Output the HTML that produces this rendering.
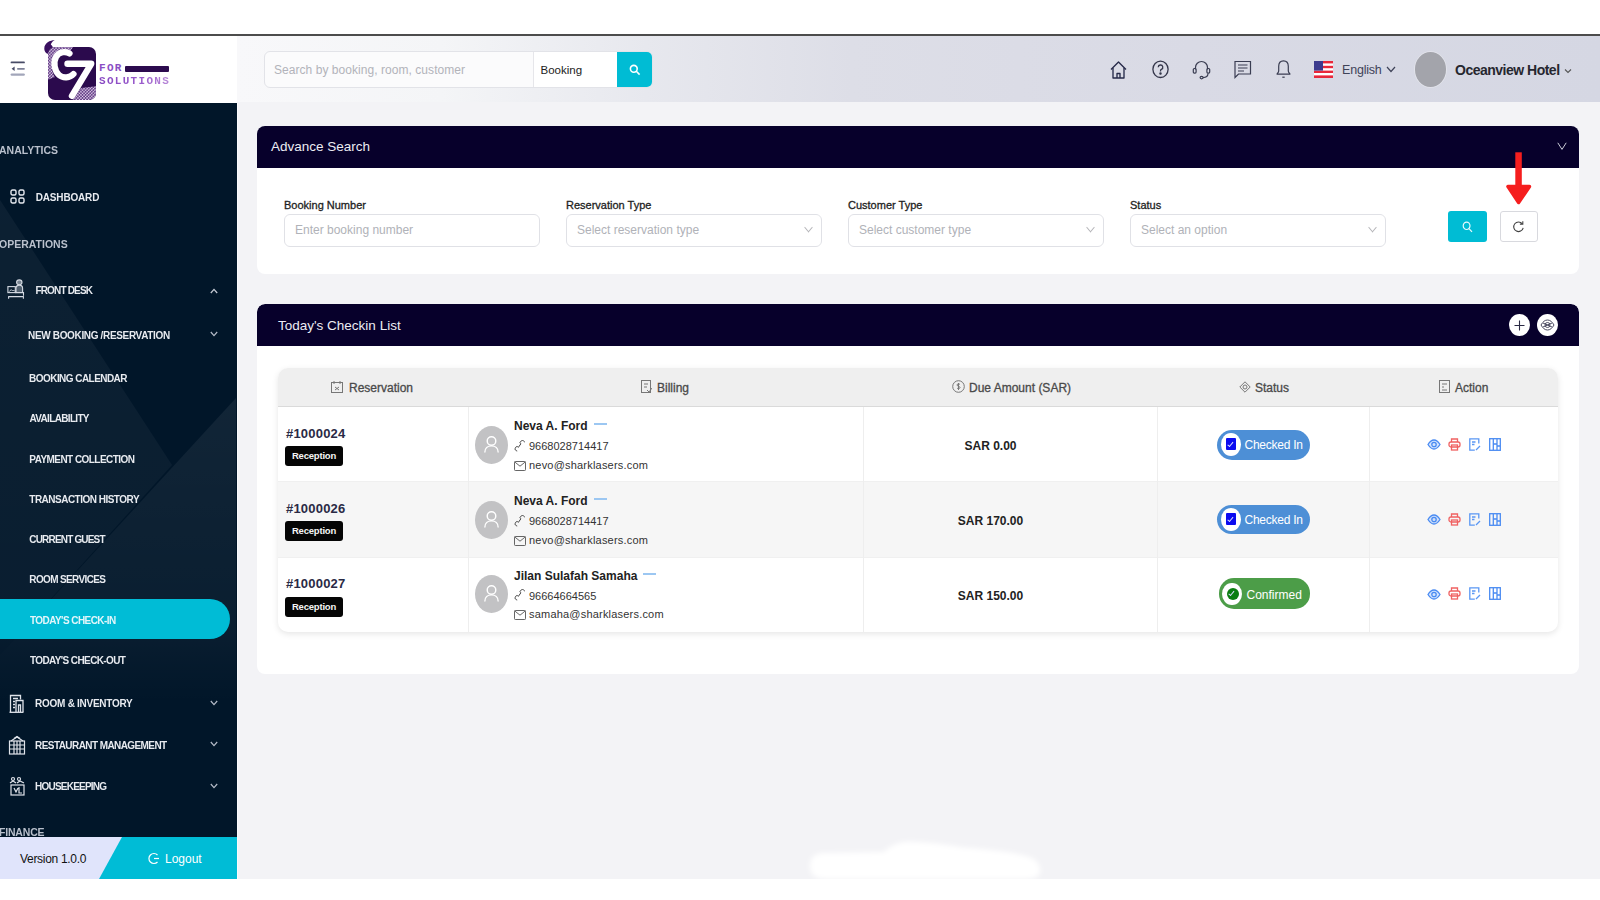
<!DOCTYPE html>
<html><head><meta charset="utf-8">
<style>
*{box-sizing:border-box;margin:0;padding:0}
html,body{width:1600px;height:900px;overflow:hidden;background:#fff;font-family:"Liberation Sans",sans-serif}
.abs{position:absolute}
#topline{position:absolute;left:0;top:34px;width:1600px;height:2px;background:#4c4c4c}
#logoarea{position:absolute;left:0;top:36px;width:237px;height:67px;background:#fff}
#hdr{position:absolute;left:237px;top:36px;width:1363px;height:66px;background:linear-gradient(90deg,#f8f8fa 0%,#f4f5f7 15%,#e7e8ee 30%,#dddee7 45%,#d9dae5 70%,#d5d7e3 100%)}
#main{position:absolute;left:237px;top:102px;width:1363px;height:777px;background:#f3f3f6}
#side{position:absolute;left:0;top:103px;width:237px;height:776px;background:#011629;overflow:hidden}
#sideedge{position:absolute;left:237px;top:103px;width:1px;height:776px;background:#fafafc}
#bottom{position:absolute;left:0;top:879px;width:1600px;height:21px;background:#fff}
.card{position:absolute;background:#fff;border-radius:8px;overflow:hidden}
.cardh{position:absolute;left:0;top:0;right:0;background:#07002b;color:#fff}

#sidetxt{position:absolute;left:0;top:0;width:237px;height:879px;overflow:hidden}
.sec{position:absolute;font-size:10.5px;line-height:13px;font-weight:bold;color:#b9c0cc;transform:scaleY(1.12)}
.it{position:absolute;font-size:10px;line-height:12px;font-weight:bold;color:#e8ebf0;transform:scaleY(1.12)}
.sub{position:absolute;font-size:10px;line-height:12px;font-weight:bold;color:#e8ebf0;transform:scaleY(1.12)}
.chev{position:absolute;left:209px;font-size:10px;line-height:10px;color:#aab2c0}

.ttl{position:absolute;font-size:13.5px;line-height:16px;color:#ececf3}
.lbl{position:absolute;font-size:11px;line-height:12px;color:#1e1e22;-webkit-text-stroke:0.3px #1e1e22}
.inp{position:absolute;top:88px;height:33px;border:1px solid #e0e1e6;border-radius:6px;background:#fff}
.inp span{position:absolute;left:10px;top:8px;font-size:12px;line-height:14px;color:#b0b2b8}
.inp i{position:absolute;right:8.5px;top:11.5px;width:9px;height:7px;background:no-repeat center/9px 7px}
.inp i:before{content:"";position:absolute;left:1px;top:-2.5px;width:6px;height:6px;border-right:1px solid #b4b4b8;border-bottom:1px solid #b4b4b8;transform:scaleX(0.85) rotate(45deg)}
.vl{position:absolute;top:39px;width:1px;height:225px;background:#eeeeee}
.th{position:absolute;top:12.5px;font-size:12px;line-height:14px;color:#4a4a4a;-webkit-text-stroke:0.3px #4a4a4a}
.rn{position:absolute;font-size:13px;line-height:15px;font-weight:bold;color:#2a2a45;letter-spacing:0.2px}
.badge{position:absolute;width:58px;height:20px;background:#050505;border-radius:3px;color:#f4f4f4;font-size:9.5px;line-height:20px;font-weight:bold;text-align:center;letter-spacing:-0.2px}
.av{position:absolute;width:33px;height:38px;border-radius:50%;background:#c2c2c4}
.nm{position:absolute;font-size:12px;line-height:14px;font-weight:bold;color:#222}
.dash{display:inline-block;width:13px;height:2px;background:#9cc7f2;margin-left:6px;vertical-align:middle;position:relative;top:-3px}
.sm{position:absolute;font-size:11px;line-height:13px;color:#333}
.amt{position:absolute;text-align:center;font-size:12px;line-height:14px;font-weight:bold;color:#222}
.st{position:absolute;width:93px;height:29.5px;border-radius:15px;color:#fff;font-size:12px;line-height:30px;padding-left:27.5px}
.st .ic{position:absolute;left:3.5px;top:2.8px;width:20.5px;height:23px;border-radius:50%;background:#fff}
.st .ic b{position:absolute;left:5px;top:5.5px;width:10.5px;height:12px;border-radius:1px}
.st .ic b:after{content:"";position:absolute;left:3.6px;top:2.6px;width:2.4px;height:4.5px;border-right:1px solid #d8dcff;border-bottom:1px solid #d8dcff;transform:rotate(40deg)}
</style></head>
<body>
<div id="topline"></div>
<div id="logoarea"></div>
<div id="hdr"></div>
<svg class="abs" style="left:10px;top:60px" width="16" height="17" viewBox="0 0 16 17"><rect x="0.6" y="1.5" width="14.3" height="1.8" rx="0.9" fill="#474b66"/><path d="M1.6 8.7l3-2.2v4.4z" fill="#474b66"/><rect x="7" y="7.9" width="7.9" height="1.8" rx="0.9" fill="#7d8198"/><rect x="0.6" y="13.4" width="14.3" height="2.4" rx="1.2" fill="#a2a6ba"/></svg>
<svg class="abs" style="left:40px;top:38px" width="60" height="64" viewBox="40 38 60 64">
<defs><pattern id="dots" width="2.2" height="2.2" patternUnits="userSpaceOnUse" patternTransform="rotate(45)"><rect width="2.2" height="2.2" fill="#4a1a72"/><circle cx="1.1" cy="1.1" r="0.85" fill="#ece4f3"/></pattern>
<clipPath id="sq"><rect x="48" y="47" width="48" height="53" rx="7"/></clipPath></defs>
<path d="M54.8 40 C50 40.3 44.3 43 44.3 48.5 C44.3 51.8 46.5 54 49 54 C51.6 54 53.2 52 53.2 49.3 C53.2 46.8 51.8 45.5 50.8 44.5 C51.6 42.4 53 41 54.8 40 Z" fill="#3a0f60"/>
<rect x="48" y="47" width="48" height="53" rx="7" fill="#2b0a4d"/>
<g clip-path="url(#sq)">
<path d="M47 47 H73 L70 52 C60 50 53 55 52 64 C51.5 70 53 74 55 77 L47 80 Z" fill="url(#dots)"/>
<path d="M73 100 L81 88 L97 86 L97 101 Z" fill="url(#dots)"/>
</g>
<path d="M69.5 53.5 C66 51 59 51.5 56 57 C53 62.5 54.5 71 59 75 C63 78.5 70 78 73.5 74" fill="none" stroke="#fff" stroke-width="6.2" stroke-linecap="round"/>
<path d="M67.5 63.8 H91.2 L72 95.8" fill="none" stroke="#fff" stroke-width="6.4" stroke-linecap="round" stroke-linejoin="round"/>
</svg>
<div class="abs" style="left:99px;top:63px;font:bold 11px/10px 'Liberation Mono',monospace;color:#8a4ec4;letter-spacing:1.3px">FOR</div>
<div class="abs" style="left:125px;top:66px;width:44px;height:6px;background:#2c0b4e;border-radius:1px"></div>
<div class="abs" style="left:99px;top:75.5px;font:bold 11px/10px 'Liberation Mono',monospace;letter-spacing:1.3px;background:linear-gradient(90deg,#8747c2,#9a5bcc 60%,#b98ad8);-webkit-background-clip:text;background-clip:text;color:transparent">SOLUTIONS</div>

<div class="abs" style="left:264px;top:51px;width:389px;height:37px;border:1px solid #e2e3e8;border-radius:6px;background:#fbfbfc;overflow:hidden">
  <div class="abs" style="left:9px;top:11px;font-size:12px;line-height:14px;color:#b2b3ba;letter-spacing:0.05px">Search by booking, room, customer</div>
  <div class="abs" style="left:268px;top:0;width:1px;height:37px;background:#e6e6ea"></div>
  <div class="abs" style="left:269px;top:0;width:84px;height:37px;background:#fff"></div>
  <div class="abs" style="left:275.5px;top:11px;font-size:11.5px;line-height:14px;color:#222">Booking</div>
  <div class="abs" style="left:352px;top:-1px;width:36px;height:37px;background:#00bcd4"></div>
  <svg class="abs" style="left:364px;top:12px" width="12" height="12" viewBox="0 0 12 12" fill="none" stroke="#fff" stroke-width="1.6"><circle cx="4.8" cy="4.8" r="3.4"/><path d="M7.3 7.3l3.3 3.3"/></svg>
</div>

<svg class="abs" style="left:1109px;top:60px" width="19" height="19" viewBox="0 0 19 19" fill="none" stroke="#272b4a" stroke-width="1.35" stroke-linejoin="round"><path d="M2 9.5L9.5 2 17 9.5"/><path d="M4 8v10h11V8"/><path d="M8 18v-4.5h3V18"/></svg>
<svg class="abs" style="left:1151px;top:59.5px" width="19" height="19" viewBox="0 0 19 19" fill="none" stroke="#34364a" stroke-width="1.3"><ellipse cx="9.5" cy="9.3" rx="7.6" ry="8.2"/><path d="M7.2 7.2a2.3 2.3 0 1 1 3.2 2.2c-.6.3-.9.8-.9 1.5v.7"/><circle cx="9.5" cy="13.6" r="0.6" fill="#34364a"/></svg>
<svg class="abs" style="left:1192px;top:59px" width="19" height="21" viewBox="0 0 19 21" fill="none" stroke="#3a3d52" stroke-width="1.2"><path d="M3.5 10.5V8.5a6 6 0 0 1 12 0v2"/><rect x="1.3" y="9.5" width="2.8" height="4.6" rx="1"/><rect x="14.9" y="9.5" width="2.8" height="4.6" rx="1"/><path d="M16 14.5c0 2.6-2.2 4-5 4.2"/><ellipse cx="9.6" cy="18.6" rx="1.5" ry="1.2"/></svg>
<svg class="abs" style="left:1233px;top:60px" width="19" height="19" viewBox="0 0 19 19" fill="none" stroke="#3a3d52" stroke-width="1.2"><path d="M2 1.5h15.5v12.5H5.5L2 17.5z"/><path d="M5 5h9.5M5 8h9.5M5 11h6"/></svg>
<svg class="abs" style="left:1275px;top:59px" width="17" height="21" viewBox="0 0 17 21" fill="none" stroke="#3a3d52" stroke-width="1.2"><path d="M8.5 1.8c3 0 4.8 2.4 4.8 5.4V12c0 1.3.8 2 1.5 2.6v.6H2.2v-.6c.7-.6 1.5-1.3 1.5-2.6V7.2c0-3 1.8-5.4 4.8-5.4z"/><path d="M7.3 18.2h2.4"/></svg>
<svg class="abs" style="left:1314px;top:61px" width="19" height="17" viewBox="0 0 19 17"><rect width="19" height="17" fill="#e8283a"/><rect y="2.4" width="19" height="2.4" fill="#fff"/><rect y="7.2" width="19" height="2.4" fill="#fff"/><rect y="12" width="19" height="2.4" fill="#fff"/><rect width="9" height="9.6" fill="#3c3b8e"/></svg>
<div class="abs" style="left:1342px;top:63px;font-size:12.5px;line-height:14px;color:#3f4358;letter-spacing:-0.2px">English</div>
<svg class="abs" style="left:1386px;top:66px" width="10" height="7" viewBox="0 0 10 7" fill="none" stroke="#3f4358" stroke-width="1.2"><path d="M1 1l4 4.5L9 1"/></svg>
<div class="abs" style="left:1414.5px;top:51.8px;width:31.6px;height:35.2px;border-radius:50%;background:#a3a4ab;box-shadow:0 0 0 0.8px #e4e5ec"></div>
<div class="abs" style="left:1455px;top:62px;font-size:14px;line-height:16px;font-weight:bold;color:#26272f;letter-spacing:-0.5px">Oceanview Hotel</div>
<svg class="abs" style="left:1564px;top:68px" width="8" height="6" viewBox="0 0 8 6" fill="none" stroke="#555" stroke-width="1.1"><path d="M1 1.5l3 3 3-3"/></svg>

<div id="main"></div>

<div id="side">
<svg width="236" height="776" style="position:absolute;left:0;top:0">
<defs><linearGradient id="fa" x1="0" y1="295" x2="0" y2="600" gradientUnits="userSpaceOnUse"><stop offset="0" stop-color="#fff" stop-opacity="0.065"/><stop offset="0.75" stop-color="#fff" stop-opacity="0.035"/><stop offset="1" stop-color="#fff" stop-opacity="0"/></linearGradient>
<linearGradient id="fb" x1="0" y1="97" x2="0" y2="600" gradientUnits="userSpaceOnUse"><stop offset="0" stop-color="#fff" stop-opacity="0.045"/><stop offset="0.8" stop-color="#fff" stop-opacity="0.035"/><stop offset="1" stop-color="#fff" stop-opacity="0"/></linearGradient></defs>
<polygon points="0,97 172,362 0,552" fill="url(#fb)"/>
<polygon points="236,295 0,552 0,600 236,600" fill="url(#fa)"/>
</svg>
</div>
<div id="sidetxt">
<div class="sec" style="left:-1px;top:143.8px;letter-spacing:0px">ANALYTICS</div>
<svg class="abs" style="left:10px;top:189px" width="15" height="15" viewBox="0 0 15 15" fill="none" stroke="#e6e9ef" stroke-width="1.4"><rect x="1" y="1" width="5" height="5" rx="1.5"/><rect x="9" y="1" width="5" height="5" rx="1.5"/><rect x="1" y="9" width="5" height="5" rx="1.5"/><rect x="9" y="9" width="5" height="5" rx="1.5"/></svg>
<div class="it" style="left:35.7px;top:191.9px;letter-spacing:-0.16px">DASHBOARD</div>
<div class="sec" style="left:-1px;top:237.9px;letter-spacing:0px">OPERATIONS</div>
<svg class="abs" style="left:7px;top:279px" width="18" height="21" viewBox="0 0 18 21" fill="none" stroke="#d5dae3" stroke-width="1.1"><rect x="0.9" y="7.6" width="7.4" height="6"/><path d="M2.2 12.6l2-2 1.4 1.4 1-1 1 1.2" stroke-width="0.9"/><ellipse cx="12.3" cy="3.3" rx="2.7" ry="2.4" fill="#d5dae3" fill-opacity="0.55"/><path d="M9 13.5v-4.2c0-1.8 1.5-3.2 3.3-3.2s3.3 1.4 3.3 3.2v4.2" fill="#d5dae3" fill-opacity="0.35"/><path d="M8.3 13.6h8.2v3.2M1.2 17.6h15.6M1.6 17.6v2.2M16.4 17.6v2.2"/></svg>
<div class="it" style="left:35.4px;top:285.4px;letter-spacing:-0.82px">FRONT DESK</div>
<svg class="abs" style="left:210px;top:287.5px" width="8" height="6" viewBox="0 0 8 6" fill="none" stroke="#c3c8d2" stroke-width="1.3"><path d="M0.8 5l3.2-3.6 3.2 3.6"/></svg>
<div class="sub" style="left:28px;top:330.4px;letter-spacing:-0.34px">NEW BOOKING /RESERVATION</div>
<svg class="abs" style="left:210px;top:330.5px" width="8" height="6" viewBox="0 0 8 6" fill="none" stroke="#b6bcc8" stroke-width="1.2"><path d="M0.8 1l3.2 3.6 3.2-3.6"/></svg>
<div class="sub" style="left:29.1px;top:372.7px;letter-spacing:-0.55px">BOOKING CALENDAR</div>
<div class="sub" style="left:29.5px;top:413.1px;letter-spacing:-0.67px">AVAILABILITY</div>
<div class="sub" style="left:29.3px;top:453.6px;letter-spacing:-0.55px">PAYMENT COLLECTION</div>
<div class="sub" style="left:29.3px;top:493.8px;letter-spacing:-0.51px">TRANSACTION HISTORY</div>
<div class="sub" style="left:29.3px;top:534.3px;letter-spacing:-0.82px">CURRENT GUEST</div>
<div class="sub" style="left:29.3px;top:574.3px;letter-spacing:-0.63px">ROOM SERVICES</div>
<div class="abs" style="left:0;top:599px;width:230px;height:40px;background:#00bcd6;border-radius:0 20px 20px 0"></div>
<div class="sub" style="left:30px;top:615.2px;letter-spacing:-0.56px;color:#e3f6fa">TODAY'S CHECK-IN</div>
<div class="sub" style="left:30px;top:655.1px;letter-spacing:-0.61px">TODAY'S CHECK-OUT</div>
<svg class="abs" style="left:9px;top:694px" width="15" height="19" viewBox="0 0 15 19" fill="none" stroke="#dfe3ea" stroke-width="1.3"><path d="M1.5 18V1.5h10v4"/><path d="M4 4.5h5M4 7.5h2M4 10.5h2M4 13.5h2"/><path d="M7 18V6.5h7V18"/><path d="M9.5 18v-7h2v7"/><path d="M0.5 18.3h14"/></svg>
<div class="it" style="left:35.1px;top:698.0px;letter-spacing:-0.27px">ROOM &amp; INVENTORY</div>
<svg class="abs" style="left:210px;top:699.5px" width="8" height="6" viewBox="0 0 8 6" fill="none" stroke="#b6bcc8" stroke-width="1.2"><path d="M0.8 1l3.2 3.6 3.2-3.6"/></svg>
<svg class="abs" style="left:8px;top:735px" width="18" height="20" viewBox="0 0 18 20" fill="none" stroke="#dfe3ea" stroke-width="1.2"><path d="M3 6l6-4 6 4"/><path d="M6 3.5l3-2 3 2"/><rect x="1.5" y="6" width="15" height="13"/><path d="M1.5 10h15M1.5 14h15M6 6v13M12 6v13M9 6v13"/></svg>
<div class="it" style="left:35.1px;top:739.6px;letter-spacing:-0.58px">RESTAURANT MANAGEMENT</div>
<svg class="abs" style="left:210px;top:740.5px" width="8" height="6" viewBox="0 0 8 6" fill="none" stroke="#b6bcc8" stroke-width="1.2"><path d="M0.8 1l3.2 3.6 3.2-3.6"/></svg>
<svg class="abs" style="left:8px;top:776px" width="18" height="20" viewBox="0 0 18 20" fill="none" stroke="#dfe3ea" stroke-width="1.2"><circle cx="5" cy="3" r="1.5"/><circle cx="11" cy="3" r="1.5"/><path d="M2 7l3-2 3 2M9 7l3-2 4 2"/><rect x="3" y="9" width="13" height="10"/><path d="M6 12l2 4 2-4M11 11v6h3"/></svg>
<div class="it" style="left:35.1px;top:781.0px;letter-spacing:-0.78px">HOUSEKEEPING</div>
<svg class="abs" style="left:210px;top:782.5px" width="8" height="6" viewBox="0 0 8 6" fill="none" stroke="#b6bcc8" stroke-width="1.2"><path d="M0.8 1l3.2 3.6 3.2-3.6"/></svg>
<div class="sec" style="left:-1px;top:826px;letter-spacing:-0.19px">FINANCE</div>
<div class="abs" style="left:0;top:837px;width:237px;height:42px;background:#e0e4fb"></div>
<div class="abs" style="left:0;top:837px;width:237px;height:42px;background:#00bcd6;clip-path:polygon(122px 0,237px 0,237px 42px,99px 42px)"></div>
<div class="abs" style="left:20px;top:852px;font-size:12px;line-height:14px;color:#111;letter-spacing:-0.3px">Version 1.0.0</div>
<svg class="abs" style="left:148px;top:852px" width="12" height="13" viewBox="0 0 12 13" fill="none" stroke="#fff" stroke-width="1.2"><path d="M9.5 3A5 5 0 1 0 9.5 10"/><path d="M6 6.5h5"/></svg>
<div class="abs" style="left:165px;top:852px;font-size:12px;line-height:14px;color:#fff">Logout</div>
</div>

<div id="sideedge"></div>


<!-- advance search card -->
<div class="card" style="left:257px;top:126px;width:1322px;height:148px">
  <div class="cardh" style="height:42px"></div>
  <div class="ttl" style="left:14px;top:13px">Advance Search</div>
  <svg class="abs" style="left:1299.5px;top:16px" width="10" height="9" viewBox="0 0 10 9" fill="none" stroke="#c9cad6" stroke-width="1"><path d="M0.8 0.8l4.2 6.6 4.2-6.6"/></svg>
  <div class="lbl" style="left:27px;top:73px">Booking Number</div>
  <div class="inp" style="left:27px;width:256px"><span>Enter booking number</span></div>
  <div class="lbl" style="left:309px;top:73px">Reservation Type</div>
  <div class="inp" style="left:309px;width:256px"><span>Select reservation type</span><i></i></div>
  <div class="lbl" style="left:591px;top:73px">Customer Type</div>
  <div class="inp" style="left:591px;width:256px"><span>Select customer type</span><i></i></div>
  <div class="lbl" style="left:873px;top:73px">Status</div>
  <div class="inp" style="left:873px;width:256px"><span>Select an option</span><i></i></div>
  <div class="abs" style="left:1191px;top:85px;width:39px;height:31px;background:#00bcd4;border-radius:3px"></div>
  <svg class="abs" style="left:1205px;top:95px" width="11" height="12" viewBox="0 0 11 12" fill="none" stroke="#e8fafd" stroke-width="1.2"><ellipse cx="4.6" cy="4.8" rx="3.4" ry="3.7"/><path d="M7 7.6l3 3.3"/></svg>
  <div class="abs" style="left:1243px;top:85px;width:38px;height:31px;background:#fff;border:1px solid #d8d9de;border-radius:3px"></div>
  <svg class="abs" style="left:1255px;top:94px" width="13" height="13" viewBox="0 0 13 13" fill="none" stroke="#444" stroke-width="1.1"><path d="M10.3 3.8A4.8 4.8 0 1 0 11.2 7.8"/><path d="M10.8 1.2v2.9h-2.9"/></svg>
</div>
<!-- red arrow -->
<svg class="abs" style="left:1504px;top:150px" width="28" height="56" viewBox="0 0 28 56"><rect x="11.3" y="2.3" width="6.5" height="36" fill="#f51e1e"/><path d="M4 36.5 L25.5 36.5 L14.6 52.5 Z" fill="#f51e1e" stroke="#f51e1e" stroke-width="3.5" stroke-linejoin="round"/></svg>

<!-- checkin card -->
<div class="card" style="left:257px;top:304px;width:1322px;height:370px">
  <div class="cardh" style="height:42px;border-radius:8px 8px 0 0"></div>
  <div class="ttl" style="left:21px;top:14px">Today's Checkin List</div>
  <div class="abs" style="left:1252px;top:10px;width:21px;height:22px;border-radius:50%;background:#fff"></div>
  <svg class="abs" style="left:1256px;top:15px" width="13" height="13" viewBox="0 0 13 13" stroke="#2a2a44" stroke-width="1.1"><path d="M6.5 1.5v10M1.5 6.5h10"/></svg>
  <div class="abs" style="left:1280px;top:10px;width:21px;height:22px;border-radius:50%;background:#fff"></div>
  <svg class="abs" style="left:1283px;top:15px" width="15" height="12" viewBox="0 0 15 12" fill="none" stroke="#4a4a60" stroke-width="1"><path d="M1 6c2-3.5 4-5 6.5-5S12 2.5 14 6c-2 3.5-4 5-6.5 5S3 9.5 1 6z"/><circle cx="7.5" cy="6" r="2.5"/><path d="M3 4l9 4M3 8l9-4"/></svg>

  <div id="tbl" class="abs" style="left:21px;top:64px;width:1280px;height:264px;border-radius:10px;background:#fff;box-shadow:0 2px 6px rgba(0,0,0,0.10);overflow:hidden">
    <div class="abs" style="left:0;top:0;width:1280px;height:39px;background:#efefef;border-bottom:1px solid #dadada"></div>
    <div class="abs" style="left:0;top:114px;width:1280px;height:75px;background:#f6f6f6"></div>
    <div class="abs" style="left:0;top:113px;width:1280px;height:1px;background:#f0f0f0"></div>
    <div class="abs" style="left:0;top:189px;width:1280px;height:1px;background:#f0f0f0"></div>
    <div class="vl" style="left:190px"></div>
    <div class="vl" style="left:585px"></div>
    <div class="vl" style="left:879px"></div>
    <div class="vl" style="left:1091px"></div>
    <!-- headers -->
    <svg class="abs" style="left:53px;top:13px" width="12" height="12" viewBox="0 0 12 12" fill="none" stroke="#777" stroke-width="1"><rect x="0.5" y="1.5" width="11" height="10"/><path d="M3 0v3M9 0v3M4 6l4 3M8 6l-4 3"/></svg>
    <div class="th" style="left:71px">Reservation</div>
    <svg class="abs" style="left:363px;top:12px" width="11" height="14" viewBox="0 0 11 14" fill="none" stroke="#777" stroke-width="1"><rect x="0.5" y="0.5" width="9" height="12"/><path d="M3 4h4M3 7h3M6 10l2 2 3-4"/></svg>
    <div class="th" style="left:379px">Billing</div>
    <svg class="abs" style="left:674px;top:12px" width="13" height="13" viewBox="0 0 13 13" fill="none" stroke="#777" stroke-width="1"><circle cx="6.5" cy="6.5" r="5.8"/><path d="M8 4.5c-.5-.8-3-1-3 .5s3 1 3 2.5-2.5 1.3-3 .5M6.5 3v7"/></svg>
    <div class="th" style="left:691px">Due Amount (SAR)</div>
    <svg class="abs" style="left:961px;top:13px" width="12" height="12" viewBox="0 0 12 12" fill="none" stroke="#777" stroke-width="1"><path d="M6 0.8L11.2 6 6 11.2 0.8 6z"/><circle cx="6" cy="6" r="2"/></svg>
    <div class="th" style="left:977px">Status</div>
    <svg class="abs" style="left:1161px;top:12px" width="11" height="13" viewBox="0 0 11 13" fill="none" stroke="#777" stroke-width="1"><rect x="0.5" y="0.5" width="10" height="12"/><path d="M3 4h5M3 7h2M3 10h5"/></svg>
    <div class="th" style="left:1177px">Action</div>
<!--ROWS-->
    <div class="rn" style="left:8px;top:57.5px">#1000024</div>
    <div class="badge" style="left:7px;top:78.0px">Reception</div>
    <div class="av" style="left:196.5px;top:57.8px"><svg width="33" height="38" viewBox="0 0 33 38" fill="none" stroke="#fff" stroke-width="1.4"><circle cx="16.5" cy="15" r="4.3"/><path d="M9.8 26.5c0-4.2 3-6.6 6.7-6.6s6.7 2.4 6.7 6.6"/></svg></div>
    <div class="nm" style="left:236px;top:51.3px">Neva A. Ford<span class="dash"></span></div>
    <svg class="abs" style="left:236px;top:72.0px" width="11" height="12" viewBox="0 0 11 12" fill="none" stroke="#444" stroke-width="1"><path d="M3.2 11c-1.6-.3-2.6-1.6-2-2.6l1-1.6c.4-.6 1.2-.6 1.6 0l.5.6 2.6-3.6-.6-.5c-.5-.5-.4-1.2.1-1.6l1.5-1.1c1-.6 2.3.2 2.6 1.7"/></svg>
    <div class="sm" style="left:251px;top:72.4px">9668028714417</div>
    <svg class="abs" style="left:236px;top:92.9px" width="12" height="10" viewBox="0 0 12 10" fill="none" stroke="#555" stroke-width="0.9"><rect x="0.5" y="0.5" width="11" height="9" rx="0.8"/><path d="M0.8 1l5.2 4.2 5.2-4.2"/></svg>
    <div class="sm" style="left:251px;top:90.9px;letter-spacing:0.2px">nevo@sharklasers.com</div>
    <div class="amt" style="left:585px;width:255px;top:71.2px">SAR 0.00</div>
    <div class="st" style="left:939px;top:62.0px;background:#4d8fd6;letter-spacing:-0.25px"><span class="ic"><b style="background:#0b0bf0"></b></span>Checked In</div>
    <svg class="abs" style="left:1148.5px;top:71.1px" width="14" height="11" viewBox="0 0 14 11" fill="none" stroke="#4a8bf2" stroke-width="1.3"><path d="M1 5.5c2-3.2 4-4.5 6-4.5s4 1.3 6 4.5c-2 3.2-4 4.5-6 4.5S3 8.7 1 5.5z" fill="#a9c9fb" fill-opacity="0.5"/><circle cx="7" cy="5.5" r="2.2"/></svg>
    <svg class="abs" style="left:1169.5px;top:69.8px" width="13" height="13" viewBox="0 0 13 13" fill="none" stroke="#f06262" stroke-width="1.3"><path d="M3.5 4V1h6v3"/><rect x="1" y="4" width="11" height="5" rx="2"/><rect x="3.5" y="7" width="6" height="5"/></svg>
    <svg class="abs" style="left:1190.5px;top:69.8px" width="12" height="13" viewBox="0 0 12 13" fill="none" stroke="#5a97f4" stroke-width="1.3"><path d="M9.8 5.5V0.8H0.8v11.4h5"/><path d="M3 4h3.5M3 6.5h2.5"/><path d="M7 12l4-4"/></svg>
    <svg class="abs" style="left:1210.5px;top:69.8px" width="12" height="13" viewBox="0 0 12 13" fill="none" stroke="#4a8bf2" stroke-width="1.3"><rect x="0.7" y="0.7" width="10.6" height="11.6"/><path d="M4.3 1v11M8 1v11M4.3 6h3.7M8 8h3"/></svg>
    
    <div class="rn" style="left:8px;top:132.8px">#1000026</div>
    <div class="badge" style="left:7px;top:153.3px">Reception</div>
    <div class="av" style="left:196.5px;top:132.6px"><svg width="33" height="38" viewBox="0 0 33 38" fill="none" stroke="#fff" stroke-width="1.4"><circle cx="16.5" cy="15" r="4.3"/><path d="M9.8 26.5c0-4.2 3-6.6 6.7-6.6s6.7 2.4 6.7 6.6"/></svg></div>
    <div class="nm" style="left:236px;top:126.1px">Neva A. Ford<span class="dash"></span></div>
    <svg class="abs" style="left:236px;top:146.8px" width="11" height="12" viewBox="0 0 11 12" fill="none" stroke="#444" stroke-width="1"><path d="M3.2 11c-1.6-.3-2.6-1.6-2-2.6l1-1.6c.4-.6 1.2-.6 1.6 0l.5.6 2.6-3.6-.6-.5c-.5-.5-.4-1.2.1-1.6l1.5-1.1c1-.6 2.3.2 2.6 1.7"/></svg>
    <div class="sm" style="left:251px;top:147.2px">9668028714417</div>
    <svg class="abs" style="left:236px;top:167.7px" width="12" height="10" viewBox="0 0 12 10" fill="none" stroke="#555" stroke-width="0.9"><rect x="0.5" y="0.5" width="11" height="9" rx="0.8"/><path d="M0.8 1l5.2 4.2 5.2-4.2"/></svg>
    <div class="sm" style="left:251px;top:165.7px;letter-spacing:0.2px">nevo@sharklasers.com</div>
    <div class="amt" style="left:585px;width:255px;top:146.0px">SAR 170.00</div>
    <div class="st" style="left:939px;top:136.8px;background:#4d8fd6;letter-spacing:-0.25px"><span class="ic"><b style="background:#0b0bf0"></b></span>Checked In</div>
    <svg class="abs" style="left:1148.5px;top:145.9px" width="14" height="11" viewBox="0 0 14 11" fill="none" stroke="#4a8bf2" stroke-width="1.3"><path d="M1 5.5c2-3.2 4-4.5 6-4.5s4 1.3 6 4.5c-2 3.2-4 4.5-6 4.5S3 8.7 1 5.5z" fill="#a9c9fb" fill-opacity="0.5"/><circle cx="7" cy="5.5" r="2.2"/></svg>
    <svg class="abs" style="left:1169.5px;top:144.6px" width="13" height="13" viewBox="0 0 13 13" fill="none" stroke="#f06262" stroke-width="1.3"><path d="M3.5 4V1h6v3"/><rect x="1" y="4" width="11" height="5" rx="2"/><rect x="3.5" y="7" width="6" height="5"/></svg>
    <svg class="abs" style="left:1190.5px;top:144.6px" width="12" height="13" viewBox="0 0 12 13" fill="none" stroke="#5a97f4" stroke-width="1.3"><path d="M9.8 5.5V0.8H0.8v11.4h5"/><path d="M3 4h3.5M3 6.5h2.5"/><path d="M7 12l4-4"/></svg>
    <svg class="abs" style="left:1210.5px;top:144.6px" width="12" height="13" viewBox="0 0 12 13" fill="none" stroke="#4a8bf2" stroke-width="1.3"><rect x="0.7" y="0.7" width="10.6" height="11.6"/><path d="M4.3 1v11M8 1v11M4.3 6h3.7M8 8h3"/></svg>
    
    <div class="rn" style="left:8px;top:208.3px">#1000027</div>
    <div class="badge" style="left:7px;top:228.8px">Reception</div>
    <div class="av" style="left:196.5px;top:207.2px"><svg width="33" height="38" viewBox="0 0 33 38" fill="none" stroke="#fff" stroke-width="1.4"><circle cx="16.5" cy="15" r="4.3"/><path d="M9.8 26.5c0-4.2 3-6.6 6.7-6.6s6.7 2.4 6.7 6.6"/></svg></div>
    <div class="nm" style="left:236px;top:200.7px">Jilan Sulafah Samaha<span class="dash"></span></div>
    <svg class="abs" style="left:236px;top:221.4px" width="11" height="12" viewBox="0 0 11 12" fill="none" stroke="#444" stroke-width="1"><path d="M3.2 11c-1.6-.3-2.6-1.6-2-2.6l1-1.6c.4-.6 1.2-.6 1.6 0l.5.6 2.6-3.6-.6-.5c-.5-.5-.4-1.2.1-1.6l1.5-1.1c1-.6 2.3.2 2.6 1.7"/></svg>
    <div class="sm" style="left:251px;top:221.8px">96664664565</div>
    <svg class="abs" style="left:236px;top:242.3px" width="12" height="10" viewBox="0 0 12 10" fill="none" stroke="#555" stroke-width="0.9"><rect x="0.5" y="0.5" width="11" height="9" rx="0.8"/><path d="M0.8 1l5.2 4.2 5.2-4.2"/></svg>
    <div class="sm" style="left:251px;top:240.3px;letter-spacing:0.2px">samaha@sharklasers.com</div>
    <div class="amt" style="left:585px;width:255px;top:220.6px">SAR 150.00</div>
    <div class="st" style="left:941px;top:210.4px;width:91px;height:31px;line-height:34px;background:#4c9d48"><span class="ic" style="left:3.3px;top:4.5px;width:19.8px;height:22.5px"><b style="left:4.3px;top:4.8px;width:12px;height:12px;background:#0a7d10;border-radius:50%"></b></span>Confirmed</div>
    <svg class="abs" style="left:1148.5px;top:220.5px" width="14" height="11" viewBox="0 0 14 11" fill="none" stroke="#4a8bf2" stroke-width="1.3"><path d="M1 5.5c2-3.2 4-4.5 6-4.5s4 1.3 6 4.5c-2 3.2-4 4.5-6 4.5S3 8.7 1 5.5z" fill="#a9c9fb" fill-opacity="0.5"/><circle cx="7" cy="5.5" r="2.2"/></svg>
    <svg class="abs" style="left:1169.5px;top:219.2px" width="13" height="13" viewBox="0 0 13 13" fill="none" stroke="#f06262" stroke-width="1.3"><path d="M3.5 4V1h6v3"/><rect x="1" y="4" width="11" height="5" rx="2"/><rect x="3.5" y="7" width="6" height="5"/></svg>
    <svg class="abs" style="left:1190.5px;top:219.2px" width="12" height="13" viewBox="0 0 12 13" fill="none" stroke="#5a97f4" stroke-width="1.3"><path d="M9.8 5.5V0.8H0.8v11.4h5"/><path d="M3 4h3.5M3 6.5h2.5"/><path d="M7 12l4-4"/></svg>
    <svg class="abs" style="left:1210.5px;top:219.2px" width="12" height="13" viewBox="0 0 12 13" fill="none" stroke="#4a8bf2" stroke-width="1.3"><rect x="0.7" y="0.7" width="10.6" height="11.6"/><path d="M4.3 1v11M8 1v11M4.3 6h3.7M8 8h3"/></svg>
    <!--/ROWS-->
  </div>
</div>

<svg class="abs" style="left:790px;top:830px" width="270" height="60" viewBox="790 830 270 60"><defs><filter id="bl" x="-10%" y="-30%" width="120%" height="160%"><feGaussianBlur stdDeviation="2.6"/></filter></defs><path d="M826 879 Q810 879 810 866 Q810 853.5 824 853 L884 852 Q893 842 910 841.5 Q940 843 962 847.5 Q1028 852 1036 861 Q1041 867 1040 872 Q1039 879 1026 879 Z" fill="#fff" filter="url(#bl)"/></svg>
<div id="bottom"></div>
</body></html>
